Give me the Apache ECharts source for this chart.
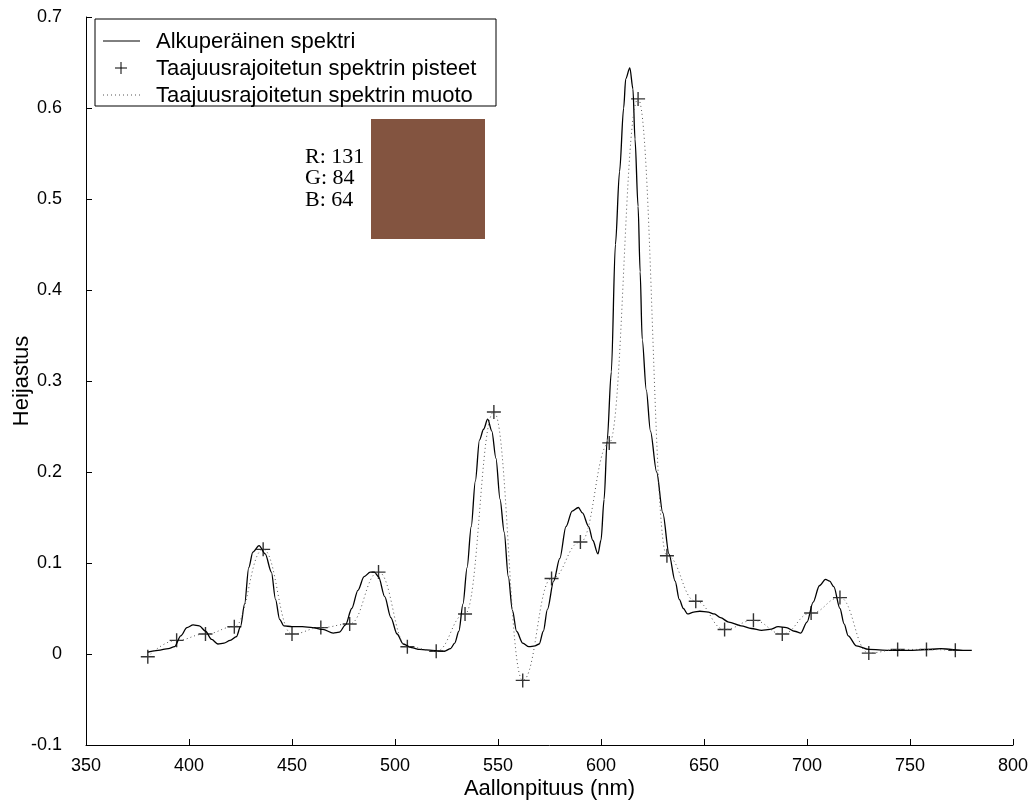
<!DOCTYPE html>
<html>
<head>
<meta charset="utf-8">
<title>Heijastusspektri</title>
<script src="https://cdn.jsdelivr.net/npm/echarts@6/dist/echarts.min.js"></script>
<style>
  html, body { margin: 0; padding: 0; background: #fff; }
  #chart { width: 1035px; height: 807px; }
</style>
</head>
<body>
<div id="chart"></div>
<script>
// alkuperäinen spektri, luettu kuvasta (nm / heijastus)
const origNm = [
  380, 385, 390, 393, 396, 399, 402, 405, 408, 411, 414, 417, 420, 423, 425, 427, 429, 431, 434, 437,
  440, 442, 444, 446, 450, 455, 460, 465, 470, 473, 476, 479, 482, 485, 488, 490, 492, 495, 498, 501,
  504, 508, 512, 518, 524, 527, 529, 531, 533, 535, 537, 539, 541, 543, 545, 547, 549, 551, 553, 555,
  557, 559, 562, 565, 568, 570, 572, 574, 577, 580, 583, 586, 589, 591, 594, 596, 598.5, 600, 601.5, 603,
  605, 607, 609, 611, 612, 614, 615.5, 616.5, 618, 619, 620, 622, 624, 627, 630, 633, 636, 638, 640, 642,
  645, 648, 652, 655, 658, 662, 668, 673, 678, 682, 686, 690, 694, 697, 700, 703, 706, 709, 711, 713,
  716, 718, 720, 724, 730, 740, 750, 760, 765, 770, 775, 780
]
const origVal = [
  0.002, 0.004, 0.006, 0.008, 0.020, 0.029, 0.032, 0.031, 0.025, 0.016, 0.011, 0.012, 0.015, 0.019, 0.030, 0.055, 0.095, 0.112, 0.119, 0.110,
  0.090, 0.060, 0.038, 0.031, 0.030, 0.030, 0.029, 0.027, 0.023, 0.024, 0.032, 0.050, 0.070, 0.085, 0.090, 0.090, 0.085, 0.063, 0.040, 0.022,
  0.011, 0.007, 0.005, 0.004, 0.003, 0.006, 0.012, 0.025, 0.055, 0.095, 0.140, 0.190, 0.235, 0.247, 0.258, 0.245, 0.215, 0.170, 0.134, 0.085,
  0.048, 0.025, 0.012, 0.008, 0.009, 0.011, 0.025, 0.049, 0.080, 0.105, 0.140, 0.157, 0.161, 0.155, 0.140, 0.125, 0.110, 0.125, 0.170, 0.235,
  0.310, 0.450, 0.530, 0.600, 0.632, 0.644, 0.621, 0.566, 0.492, 0.420, 0.346, 0.290, 0.245, 0.200, 0.155, 0.110, 0.080, 0.060, 0.050, 0.044,
  0.046, 0.047, 0.046, 0.044, 0.040, 0.035, 0.031, 0.028, 0.026, 0.027, 0.030, 0.029, 0.025, 0.023, 0.035, 0.057, 0.075, 0.082, 0.080, 0.074,
  0.050, 0.033, 0.020, 0.009, 0.005, 0.004, 0.004, 0.005, 0.006, 0.005, 0.004, 0.004
]

// taajuusrajoitetun spektrin pisteet, 14 nm välein
const sampleNm = [
  380, 394, 408, 422, 436, 450, 464, 478, 492, 506, 520, 534, 548, 562, 576,
  590, 604, 618, 632, 646, 660, 674, 688, 702, 716, 730, 744, 758, 772
]
const sampleVal = [
  -0.003, 0.015, 0.022, 0.030, 0.115, 0.022, 0.029, 0.033, 0.090, 0.008, 0.003, 0.044, 0.266, -0.029, 0.083,
  0.123, 0.232, 0.610, 0.108, 0.058, 0.027, 0.037, 0.022, 0.045, 0.062, 0.001, 0.005, 0.005, 0.004
]

const xTicks = [350, 400, 450, 500, 550, 600, 650, 700, 750, 800]
const yTicks = [-0.1, 0, 0.1, 0.2, 0.3, 0.4, 0.5, 0.6, 0.7]

const legendNames = [
  'Alkuperäinen spektri',
  'Taajuusrajoitetun spektrin pisteet',
  'Taajuusrajoitetun spektrin muoto'
]
const swatchRgb = [131, 84, 64]

const font = '"Liberation Sans", Arial, sans-serif'
const serif = '"Liberation Serif", "Times New Roman", serif'
// plussa-merkki täytettynä ristinä
const plusPath = 'path://M4.5,0h1v4.5h4.5v1h-4.5v4.5h-1v-4.5h-4.5v-1h4.5z'

const chart = echarts.init(document.getElementById('chart'))

function line(x1, y1, x2, y2, style) {
  return { type: 'line', z: 11, shape: { x1, y1, x2, y2 }, style }
}

const option = {
  animation: false,
  backgroundColor: '#fff',
  grid: { left: 86, right: 22, top: 17, bottom: 62, outerBoundsMode: 'none', containLabel: false },
  xAxis: {
    type: 'value',
    min: xTicks[0],
    max: xTicks[xTicks.length - 1],
    interval: xTicks[1] - xTicks[0],
    name: 'Aallonpituus (nm)',
    nameLocation: 'middle',
    nameGap: 33,
    nameMoveOverlap: false,
    nameTextStyle: { fontFamily: font, fontSize: 22, color: '#000' },
    axisLine: { onZero: false, lineStyle: { color: '#000', width: 1 } },
    axisTick: { inside: true, length: 6, lineStyle: { color: '#000' } },
    axisLabel: { fontFamily: font, fontSize: 18, color: '#000', margin: 12 },
    splitLine: { show: false }
  },
  yAxis: {
    type: 'value',
    min: yTicks[0],
    max: yTicks[yTicks.length - 1],
    interval: 0.1,
    name: 'Heijastus',
    nameLocation: 'middle',
    nameGap: 53,
    nameMoveOverlap: false,
    nameTextStyle: { fontFamily: font, fontSize: 22, color: '#000' },
    axisLine: { show: true, lineStyle: { color: '#000', width: 1 } },
    axisTick: { show: true, inside: true, length: 6, lineStyle: { color: '#000' } },
    axisLabel: {
      fontFamily: font, fontSize: 18, color: '#000', margin: 24,
      formatter: v => String(Math.round(v * 10) / 10)
    },
    splitLine: { show: false }
  },
  series: [
    {
      name: legendNames[0],
      type: 'line',
      data: origNm.map((x, i) => [x, origVal[i]]),
      symbol: 'none',
      smooth: 0.3,
      smoothMonotone: 'x',
      lineStyle: { color: '#000', width: 1.3 }
    },
    {
      name: legendNames[2],
      type: 'line',
      data: sampleNm.map((x, i) => [x, sampleVal[i]]),
      symbol: 'none',
      smooth: 0.45,
      smoothMonotone: 'x',
      lineStyle: { color: '#555', width: 1, type: [1, 3] }
    },
    {
      name: legendNames[1],
      type: 'scatter',
      data: sampleNm.map((x, i) => [x, sampleVal[i]]),
      symbol: plusPath,
      symbolSize: 14,
      itemStyle: { color: '#000' }
    }
  ],
  graphic: [
    // selite
    {
      type: 'rect', x: 95, y: 19, z: 10,
      shape: { x: 0, y: 0, width: 401, height: 87 },
      style: { fill: '#fff', stroke: '#000', lineWidth: 1 }
    },
    line(103, 41, 140, 41, { stroke: '#000', lineWidth: 1 }),
    line(121, 62, 121, 74, { stroke: '#000', lineWidth: 1 }),
    line(115, 68, 127, 68, { stroke: '#000', lineWidth: 1 }),
    line(103, 95, 140, 95, { stroke: '#555', lineWidth: 1, lineDash: [1, 3] }),
    ...legendNames.map((t, i) => ({
      type: 'text', x: 156, y: 42 + i * 27, z: 11,
      style: { text: t, font: '22px ' + font, fill: '#000', verticalAlign: 'middle' }
    })),
    // värinäyte
    {
      type: 'rect', x: 371, y: 119, z: 5,
      shape: { x: 0, y: 0, width: 114, height: 120 },
      style: { fill: 'rgb(' + swatchRgb.join(',') + ')' }
    },
    ...['R', 'G', 'B'].map((c, i) => ({
      type: 'text', x: 305, y: 157 + i * 21.5, z: 5,
      style: { text: c + ': ' + swatchRgb[i], font: '22px ' + serif, fill: '#000', verticalAlign: 'middle' }
    }))
  ]
}

chart.setOption(option)
</script>
</body>
</html>
